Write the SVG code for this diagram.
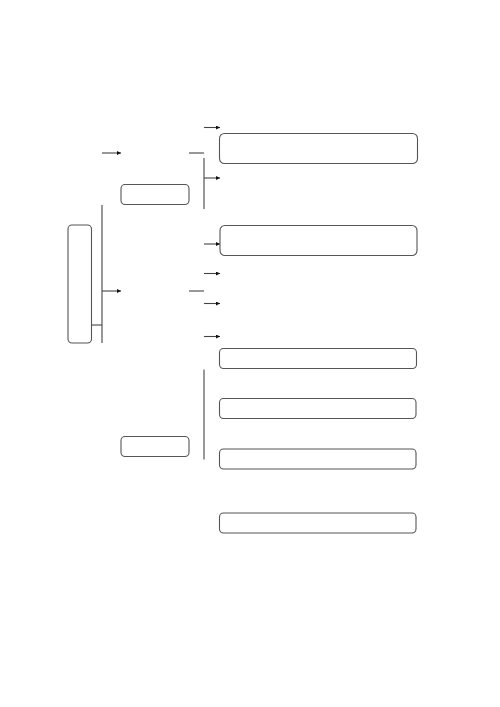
<svg xmlns="http://www.w3.org/2000/svg" width="500" height="707" viewBox="0 0 500 707">
<defs>
<style>
.node{fill:#fff;stroke:#555;stroke-width:1.1}
.conn{fill:none;stroke:#444;stroke-width:1.1}
</style>
<marker id="ah" viewBox="0 0 6 6" refX="6" refY="3" markerWidth="4" markerHeight="4" markerUnits="userSpaceOnUse" orient="auto">
<path d="M0,0L6,3L0,6Z" fill="#111"/>
</marker>
</defs>
<rect width="500" height="707" fill="#fff"/>
<g id="connectors">
<path class="conn" d="M102,205V343"/>
<path class="conn" d="M91.5,325H102"/>
<path class="conn" d="M102,153H121" marker-end="url(#ah)"/>
<path class="conn" d="M102,291H121" marker-end="url(#ah)"/>
<path class="conn" d="M189,153H204"/>
<path class="conn" d="M189,291H204"/>
<path class="conn" d="M204,158V209"/>
<path class="conn" d="M204,127.5H220" marker-end="url(#ah)"/>
<path class="conn" d="M204,178H220" marker-end="url(#ah)"/>
<path class="conn" d="M204,244H220" marker-end="url(#ah)"/>
<path class="conn" d="M204,273.5H220" marker-end="url(#ah)"/>
<path class="conn" d="M204,303.5H220" marker-end="url(#ah)"/>
<path class="conn" d="M204,336.5H220" marker-end="url(#ah)"/>
<path class="conn" d="M204,369.5V459.5"/>
</g>
<g id="root"><rect class="node" x="68" y="225" width="23.5" height="118" rx="4"/></g>
<g id="branch1"><rect class="node" x="121" y="184.5" width="68" height="20" rx="4"/></g>
<g id="branch2"><rect class="node" x="121" y="436.5" width="68" height="20" rx="4"/></g>
<g id="leaf1"><rect class="node" x="219.5" y="133.5" width="198" height="30" rx="5"/></g>
<g id="leaf2"><rect class="node" x="220" y="225.5" width="197" height="30" rx="5"/></g>
<g id="leaf3"><rect class="node" x="219.5" y="348.5" width="197" height="20" rx="4"/></g>
<g id="leaf4"><rect class="node" x="219.5" y="398.5" width="196.5" height="20" rx="4"/></g>
<g id="leaf5"><rect class="node" x="219.5" y="449" width="196.5" height="20" rx="4"/></g>
<g id="leaf6"><rect class="node" x="219.5" y="513" width="196.5" height="20" rx="4"/></g>
</svg>
